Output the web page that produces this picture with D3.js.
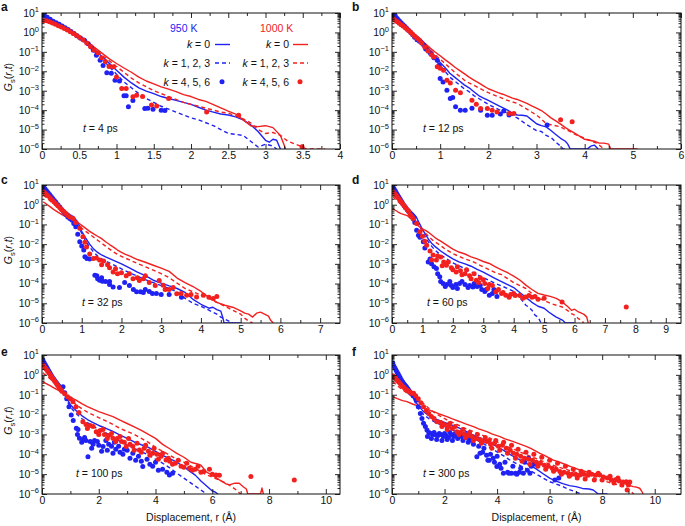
<!DOCTYPE html>
<html><head><meta charset="utf-8">
<script src="https://cdn.jsdelivr.net/npm/d3@7"></script>
<style>
body{margin:0;background:#fff}
svg text{font-family:"Liberation Sans",Arial,Helvetica,sans-serif;fill:#111}
</style>
</head><body>
<svg id="c" width="685" height="526"></svg>
<script>
// ---- DATA: [r (Å), log10 Gs(r,t)] ----
// panel a, t = 4 ps
const A_b0=[[0.02,0.85],[0.1,0.62],[0.2,0.42],[0.3,0.22],[0.4,0.02],[0.5,-0.2],[0.6,-0.5],[0.7,-0.85],[0.8,-1.22],[0.9,-1.58],[1.0,-1.95],[1.1,-2.3],[1.2,-2.6],[1.3,-2.85],[1.4,-3.02],[1.5,-3.15],[1.6,-3.3],[1.7,-3.4],[1.8,-3.5],[1.9,-3.6],[2.0,-3.7],[2.1,-3.85],[2.2,-4.0],[2.3,-4.1],[2.4,-4.2],[2.5,-4.25],[2.6,-4.35],[2.7,-4.5],[2.8,-4.75],[2.9,-5.1],[3.0,-5.55],[3.05,-5.65],[3.1,-5.5],[3.15,-5.55],[3.2,-6]];
const A_b1=[[0.02,0.8],[0.1,0.6],[0.2,0.4],[0.3,0.2],[0.4,0.0],[0.5,-0.25],[0.6,-0.6],[0.7,-0.98],[0.8,-1.35],[0.9,-1.75],[1.0,-2.15],[1.1,-2.55],[1.2,-2.85],[1.3,-3.15],[1.4,-3.4],[1.5,-3.6],[1.6,-3.8],[1.7,-3.95],[1.8,-4.1],[1.9,-4.25],[2.0,-4.4],[2.1,-4.5],[2.2,-4.65],[2.3,-4.8],[2.4,-5.0],[2.5,-5.2],[2.6,-5.25],[2.7,-5.3],[2.8,-5.6],[2.9,-5.9],[3.0,-5.75],[3.1,-5.85],[3.15,-6]];
const A_b2=[[0.03,0.9],[0.07,0.78],[0.11,0.68],[0.15,0.58],[0.19,0.5],[0.23,0.42],[0.27,0.33],[0.31,0.24],[0.35,0.15],[0.39,0.05],[0.43,-0.05],[0.47,-0.17],[0.52,-0.3],[0.57,-0.4],[0.62,-0.58],[0.66,-0.75],[0.69,-0.92],[0.73,-1.17],[0.78,-1.43],[0.82,-1.7],[0.87,-2.08],[0.93,-2.1],[0.98,-2.46],[1.04,-2.5],[1.1,-3.26],[1.13,-3.26],[1.16,-3.83],[1.22,-3.5],[1.38,-3.91],[1.42,-3.9],[1.49,-3.95],[1.6,-4.0],[1.65,-4.02]];
const A_r0=[[0.02,0.6],[0.1,0.5],[0.2,0.35],[0.3,0.18],[0.4,0.0],[0.5,-0.2],[0.6,-0.45],[0.7,-0.75],[0.8,-1.05],[0.9,-1.35],[1.0,-1.6],[1.1,-1.83],[1.2,-2.05],[1.3,-2.3],[1.4,-2.5],[1.5,-2.65],[1.6,-2.8],[1.7,-2.92],[1.8,-3.05],[1.9,-3.2],[2.0,-3.3],[2.1,-3.45],[2.2,-3.55],[2.3,-3.72],[2.4,-3.88],[2.5,-4.05],[2.6,-4.2],[2.7,-4.5],[2.8,-4.8],[2.9,-4.85],[3.0,-4.8],[3.1,-4.9],[3.2,-5.3],[3.25,-5.8],[3.27,-6]];
const A_r1=[[0.02,0.62],[0.1,0.5],[0.2,0.35],[0.3,0.18],[0.4,0.0],[0.5,-0.22],[0.6,-0.5],[0.7,-0.82],[0.8,-1.15],[0.9,-1.45],[1.0,-1.75],[1.1,-2.05],[1.2,-2.35],[1.3,-2.6],[1.4,-2.8],[1.5,-3.0],[1.6,-3.15],[1.7,-3.3],[1.8,-3.45],[1.9,-3.6],[2.0,-3.7],[2.1,-3.8],[2.2,-3.9],[2.3,-4.0],[2.4,-4.1],[2.5,-4.15],[2.6,-4.3],[2.7,-4.45],[2.8,-4.65],[2.9,-5.0],[3.0,-5.2],[3.1,-5.15],[3.2,-5.3],[3.3,-5.6],[3.4,-5.75],[3.5,-5.9],[3.55,-6],[3.8,-6]];
const A_r2=[[0.02,0.6],[0.06,0.6],[0.1,0.55],[0.14,0.48],[0.18,0.42],[0.22,0.35],[0.26,0.28],[0.3,0.2],[0.34,0.12],[0.38,0.04],[0.42,-0.05],[0.46,-0.15],[0.5,-0.25],[0.55,-0.38],[0.6,-0.55],[0.65,-0.72],[0.7,-0.9],[0.75,-1.05],[0.8,-1.3],[0.85,-1.5],[0.9,-1.75],[0.96,-1.77],[1.0,-2.3],[1.07,-2.89],[1.13,-2.89],[1.22,-3.31],[1.27,-3.23],[1.35,-3.3],[1.47,-3.74],[1.54,-3.79],[1.7,-3.4],[2.21,-4.1],[2.64,-4.26],[3.49,-5.88]];
// panel b, t = 12 ps
const B_b0=[[0.03,0.88],[0.1,0.7],[0.2,0.45],[0.3,0.25],[0.4,0.05],[0.5,-0.15],[0.6,-0.35],[0.7,-0.65],[0.8,-0.95],[0.9,-1.25],[1.0,-1.55],[1.1,-1.8],[1.2,-2.1],[1.3,-2.3],[1.4,-2.5],[1.5,-2.7],[1.6,-2.85],[1.7,-3.05],[1.8,-3.25],[1.9,-3.38],[2.0,-3.5],[2.2,-3.75],[2.4,-4.0],[2.5,-4.15],[2.6,-4.25],[2.7,-4.26],[2.8,-4.3],[2.9,-4.5],[3.0,-4.7],[3.1,-4.8],[3.2,-4.86],[3.3,-5.05],[3.4,-5.25],[3.5,-5.45],[3.6,-5.6],[3.65,-5.75],[3.7,-6],[4.05,-6],[4.13,-5.85],[4.2,-5.8],[4.28,-6]];
const B_b1=[[0.03,0.85],[0.1,0.68],[0.2,0.45],[0.3,0.25],[0.4,0.05],[0.5,-0.17],[0.6,-0.4],[0.7,-0.75],[0.8,-1.1],[0.9,-1.4],[1.0,-1.7],[1.1,-2.0],[1.2,-2.3],[1.3,-2.5],[1.4,-2.7],[1.5,-2.9],[1.6,-3.05],[1.7,-3.25],[1.8,-3.4],[1.9,-3.55],[2.0,-3.7],[2.2,-3.95],[2.4,-4.15],[2.6,-4.4],[2.8,-4.75],[2.9,-4.9],[3.0,-5.05],[3.1,-5.1],[3.2,-5.3],[3.3,-5.4],[3.4,-5.65],[3.5,-5.85],[3.55,-6],[3.65,-6]];
const B_b2=[[0.03,0.97],[0.07,0.85],[0.11,0.72],[0.15,0.6],[0.19,0.5],[0.23,0.4],[0.27,0.3],[0.31,0.2],[0.35,0.1],[0.39,0.0],[0.43,-0.12],[0.47,-0.25],[0.52,-0.38],[0.57,-0.45],[0.62,-0.55],[0.66,-0.65],[0.7,-0.85],[0.75,-0.95],[0.8,-1.09],[0.87,-1.3],[0.94,-1.43],[0.98,-1.69],[1.0,-2.37],[1.06,-2.55],[1.14,-2.97],[1.21,-3.4],[1.26,-3.35],[1.32,-3.83],[1.42,-4.0],[1.52,-4.0],[1.66,-3.9],[1.84,-4.0],[1.98,-4.26],[2.08,-4.26],[2.25,-4.2],[2.32,-4.05],[2.43,-4.25],[3.22,-4.77]];
const B_r0=[[0.03,0.62],[0.1,0.5],[0.2,0.33],[0.3,0.15],[0.4,-0.02],[0.5,-0.2],[0.6,-0.4],[0.7,-0.6],[0.8,-0.82],[0.9,-1.02],[1.0,-1.2],[1.1,-1.4],[1.2,-1.58],[1.3,-1.78],[1.4,-1.95],[1.5,-2.12],[1.6,-2.3],[1.7,-2.45],[1.8,-2.6],[1.9,-2.75],[2.0,-2.9],[2.1,-3.0],[2.2,-3.1],[2.3,-3.18],[2.4,-3.28],[2.5,-3.38],[2.6,-3.45],[2.7,-3.55],[2.8,-3.65],[2.9,-3.78],[3.0,-3.9],[3.1,-4.02],[3.2,-4.2],[3.3,-4.4],[3.4,-4.55],[3.5,-4.72],[3.6,-4.9],[3.7,-5.05],[3.8,-5.2],[3.9,-5.35],[4.0,-5.5],[4.1,-5.55],[4.2,-5.6],[4.3,-5.7],[4.4,-5.7],[4.5,-5.75],[4.54,-6],[5.1,-6]];
const B_r1=[[0.03,0.7],[0.1,0.55],[0.2,0.38],[0.3,0.2],[0.4,0.0],[0.5,-0.2],[0.6,-0.42],[0.7,-0.68],[0.8,-0.92],[0.9,-1.15],[1.0,-1.38],[1.1,-1.6],[1.2,-1.82],[1.3,-2.05],[1.4,-2.25],[1.5,-2.45],[1.6,-2.6],[1.7,-2.72],[1.8,-2.85],[1.9,-2.98],[2.0,-3.1],[2.2,-3.3],[2.4,-3.5],[2.6,-3.65],[2.8,-3.95],[3.0,-4.25],[3.1,-4.45],[3.2,-4.7],[3.3,-4.75],[3.5,-4.86],[3.6,-5.0],[3.7,-5.1],[3.8,-5.25],[3.9,-5.35],[4.0,-5.45],[4.1,-5.55],[4.25,-5.7],[4.35,-5.9],[4.4,-6]];
const B_r2=[[0.03,0.7],[0.07,0.62],[0.11,0.55],[0.15,0.47],[0.19,0.4],[0.23,0.33],[0.27,0.25],[0.31,0.17],[0.35,0.08],[0.39,0.0],[0.43,-0.1],[0.47,-0.2],[0.52,-0.3],[0.57,-0.4],[0.62,-0.55],[0.68,-0.75],[0.75,-0.95],[0.82,-1.15],[0.87,-1.26],[0.94,-1.77],[1.0,-1.85],[1.07,-1.95],[1.14,-2.46],[1.21,-2.6],[1.32,-2.97],[1.42,-3.1],[1.66,-3.49],[1.75,-3.7],[1.84,-3.91],[1.98,-3.91],[2.08,-4.0],[2.18,-4.1],[2.43,-4.17],[2.53,-4.17],[3.5,-4.5],[3.74,-4.6]];
// panel c, t = 32 ps
const C_b0=[[0.03,0.83],[0.1,0.62],[0.2,0.38],[0.3,0.15],[0.4,-0.05],[0.5,-0.2],[0.6,-0.35],[0.7,-0.5],[0.8,-0.62],[0.9,-0.88],[1.0,-1.35],[1.1,-1.7],[1.2,-2.0],[1.3,-2.25],[1.4,-2.42],[1.5,-2.55],[1.6,-2.65],[1.8,-2.82],[2.0,-3.0],[2.2,-3.2],[2.4,-3.42],[2.6,-3.6],[2.8,-3.83],[3.0,-3.98],[3.2,-4.12],[3.4,-4.25],[3.6,-4.45],[3.8,-4.8],[4.0,-5.05],[4.2,-5.25],[4.3,-5.2],[4.4,-5.32],[4.5,-5.4],[4.56,-5.8],[4.58,-6],[5.0,-6]];
const C_b1=[[0.03,0.8],[0.1,0.6],[0.2,0.38],[0.3,0.15],[0.4,-0.05],[0.5,-0.22],[0.6,-0.38],[0.7,-0.55],[0.8,-0.75],[0.9,-1.05],[1.0,-1.45],[1.1,-1.85],[1.2,-2.15],[1.3,-2.4],[1.4,-2.6],[1.5,-2.75],[1.6,-2.85],[1.8,-3.05],[2.0,-3.25],[2.2,-3.45],[2.4,-3.62],[2.6,-3.8],[2.8,-3.95],[3.0,-4.1],[3.2,-4.25],[3.4,-4.42],[3.6,-4.75],[3.8,-5.0],[4.0,-5.15],[4.2,-5.35],[4.4,-5.55],[4.5,-5.7],[4.65,-5.85],[4.8,-6]];
const C_b2=[[0.03,0.92],[0.07,0.82],[0.11,0.72],[0.15,0.62],[0.19,0.52],[0.23,0.42],[0.27,0.32],[0.31,0.22],[0.35,0.12],[0.4,0.0],[0.45,-0.12],[0.5,-0.25],[0.55,-0.38],[0.6,-0.5],[0.65,-0.62],[0.7,-0.7],[0.75,-0.78],[0.8,-0.95],[0.85,-1.12],[0.9,-1.5],[0.95,-1.88],[1.0,-2.1],[1.05,-2.3],[1.08,-2.64],[1.13,-2.73],[1.2,-2.75],[1.33,-3.58],[1.38,-3.6],[1.4,-3.75],[1.45,-3.83],[1.5,-3.7],[1.52,-3.88],[1.6,-3.9],[1.7,-4.05],[1.7,-3.9],[1.79,-4.17],[1.95,-4.2],[2.08,-3.95],[2.2,-4.1],[2.3,-4.3],[2.38,-4.42],[2.48,-4.42],[2.55,-4.45],[2.6,-4.3],[2.7,-4.4],[2.78,-4.5],[2.88,-4.5],[3.0,-4.55],[3.2,-4.55],[3.51,-4.7]];
const C_r0=[[0.03,0.15],[0.1,0.05],[0.2,-0.1],[0.3,-0.25],[0.4,-0.38],[0.5,-0.5],[0.6,-0.6],[0.7,-0.68],[0.8,-0.75],[0.9,-0.9],[1.0,-1.05],[1.1,-1.2],[1.2,-1.35],[1.3,-1.48],[1.4,-1.6],[1.5,-1.72],[1.6,-1.88],[1.7,-2.02],[1.8,-2.15],[1.9,-2.3],[2.0,-2.42],[2.1,-2.52],[2.2,-2.6],[2.4,-2.78],[2.6,-2.92],[2.8,-3.07],[3.0,-3.22],[3.2,-3.38],[3.4,-3.72],[3.6,-3.95],[3.8,-4.15],[4.0,-4.4],[4.2,-4.7],[4.4,-4.95],[4.6,-5.1],[4.8,-5.2],[5.0,-5.38],[5.1,-5.5],[5.2,-5.55],[5.3,-5.7],[5.4,-5.5],[5.5,-5.45],[5.6,-5.55],[5.7,-5.65],[5.75,-5.85],[5.82,-6]];
const C_r1=[[0.03,0.5],[0.1,0.38],[0.2,0.2],[0.3,0.02],[0.4,-0.15],[0.5,-0.32],[0.6,-0.5],[0.7,-0.68],[0.8,-0.85],[0.9,-1.05],[1.0,-1.2],[1.1,-1.35],[1.2,-1.5],[1.3,-1.65],[1.4,-1.8],[1.5,-1.95],[1.6,-2.1],[1.7,-2.25],[1.8,-2.4],[1.9,-2.52],[2.0,-2.62],[2.2,-2.8],[2.4,-2.98],[2.6,-3.15],[2.8,-3.32],[3.0,-3.5],[3.2,-3.7],[3.4,-3.98],[3.6,-4.25],[3.8,-4.42],[4.0,-4.58],[4.2,-4.75],[4.4,-4.95],[4.6,-5.15],[4.8,-5.35],[5.0,-5.55],[5.1,-5.75],[5.2,-5.9],[5.3,-6]];
const C_r2=[[0.03,0.66],[0.07,0.6],[0.11,0.52],[0.15,0.45],[0.2,0.35],[0.25,0.25],[0.3,0.15],[0.35,0.05],[0.4,-0.05],[0.45,-0.15],[0.5,-0.25],[0.55,-0.35],[0.6,-0.45],[0.65,-0.55],[0.7,-0.62],[0.78,-0.7],[0.85,-0.9],[0.95,-1.2],[1.03,-1.63],[1.08,-1.9],[1.12,-2.14],[1.2,-2.5],[1.29,-2.73],[1.37,-2.7],[1.45,-2.81],[1.5,-3.05],[1.55,-2.85],[1.65,-3.05],[1.7,-3.2],[1.79,-3.41],[1.85,-3.25],[1.9,-3.5],[2.0,-3.45],[2.12,-3.6],[2.2,-3.5],[2.29,-3.75],[2.4,-3.7],[2.45,-3.85],[2.55,-3.75],[2.6,-3.6],[2.7,-3.95],[2.85,-4.1],[2.95,-3.85],[3.05,-4.08],[3.1,-4.3],[3.2,-4.3],[3.3,-4.2],[3.39,-4.51],[3.5,-4.5],[3.64,-4.59],[3.75,-4.55],[3.89,-4.68],[4.06,-4.59],[4.2,-4.7],[4.31,-4.76],[4.4,-4.65]];
// panel d, t = 60 ps
const D_b0=[[0.03,0.92],[0.1,0.7],[0.2,0.45],[0.3,0.22],[0.4,0.02],[0.5,-0.15],[0.6,-0.3],[0.7,-0.45],[0.8,-0.62],[0.9,-0.95],[1.0,-1.25],[1.1,-1.5],[1.2,-1.75],[1.3,-1.95],[1.4,-2.1],[1.6,-2.35],[1.8,-2.56],[2.0,-2.75],[2.2,-2.9],[2.4,-3.0],[2.6,-3.12],[2.8,-3.28],[3.0,-3.42],[3.2,-3.58],[3.4,-3.75],[3.6,-3.9],[3.8,-4.05],[4.0,-4.2],[4.2,-4.45],[4.4,-4.7],[4.6,-4.95],[4.8,-5.15],[5.0,-5.25],[5.15,-5.44],[5.3,-5.6],[5.4,-5.7],[5.6,-5.85],[5.7,-6],[6.0,-6]];
const D_b1=[[0.03,0.88],[0.1,0.68],[0.2,0.44],[0.3,0.22],[0.4,0.02],[0.5,-0.16],[0.6,-0.32],[0.7,-0.5],[0.8,-0.7],[0.9,-1.05],[1.0,-1.38],[1.1,-1.65],[1.2,-1.9],[1.3,-2.1],[1.4,-2.28],[1.6,-2.55],[1.8,-2.75],[2.0,-2.95],[2.2,-3.1],[2.4,-3.25],[2.6,-3.4],[2.8,-3.55],[3.0,-3.7],[3.2,-3.85],[3.4,-4.0],[3.6,-4.12],[3.8,-4.25],[4.0,-4.4],[4.2,-4.7],[4.4,-5.1],[4.5,-5.2],[4.6,-5.35],[4.7,-5.6],[4.8,-5.7],[4.9,-6],[5.1,-6]];
const D_b2=[[0.03,0.92],[0.07,0.8],[0.11,0.7],[0.15,0.58],[0.19,0.48],[0.23,0.38],[0.27,0.28],[0.31,0.18],[0.35,0.08],[0.4,-0.05],[0.45,-0.15],[0.5,-0.25],[0.55,-0.35],[0.6,-0.45],[0.65,-0.55],[0.7,-0.7],[0.75,-0.9],[0.81,-1.29],[0.87,-1.55],[0.92,-1.65],[1.03,-1.88],[1.08,-2.2],[1.19,-2.9],[1.25,-2.75],[1.3,-3.0],[1.38,-3.15],[1.46,-3.24],[1.5,-3.5],[1.57,-3.66],[1.6,-3.9],[1.68,-4.0],[1.75,-4.15],[1.8,-4.05],[1.9,-3.9],[1.95,-4.1],[2.0,-4.2],[2.1,-4.05],[2.15,-4.25],[2.22,-4.0],[2.3,-3.9],[2.4,-4.05],[2.5,-4.2],[2.55,-4.1],[2.66,-4.17],[2.7,-4.0],[2.8,-4.15],[2.9,-4.1],[2.95,-4.3],[3.05,-4.4],[3.1,-4.3],[3.2,-4.59],[3.3,-4.5],[3.35,-4.3],[3.45,-4.65]];
const D_r0=[[0.03,-0.2],[0.1,-0.27],[0.2,-0.37],[0.3,-0.45],[0.4,-0.5],[0.5,-0.55],[0.6,-0.68],[0.7,-0.85],[0.8,-1.0],[0.9,-1.12],[1.0,-1.22],[1.1,-1.3],[1.2,-1.4],[1.3,-1.52],[1.4,-1.65],[1.5,-1.76],[1.6,-1.85],[1.8,-2.05],[2.0,-2.25],[2.2,-2.4],[2.4,-2.5],[2.6,-2.65],[2.8,-2.75],[3.0,-2.88],[3.2,-2.98],[3.4,-3.15],[3.6,-3.3],[3.8,-3.45],[4.0,-3.62],[4.2,-3.82],[4.4,-4.08],[4.6,-4.3],[4.8,-4.5],[5.0,-4.58],[5.2,-4.65],[5.4,-4.75],[5.6,-4.93],[5.8,-5.2],[5.9,-5.36],[6.0,-5.3],[6.13,-5.44],[6.3,-5.55],[6.4,-5.69],[6.45,-6]];
const D_r1=[[0.03,0.41],[0.1,0.3],[0.2,0.15],[0.3,0.0],[0.4,-0.15],[0.5,-0.3],[0.6,-0.5],[0.7,-0.7],[0.8,-0.9],[0.9,-1.1],[1.0,-1.3],[1.1,-1.45],[1.2,-1.6],[1.3,-1.75],[1.4,-1.88],[1.5,-1.97],[1.6,-2.08],[1.8,-2.3],[2.0,-2.48],[2.2,-2.62],[2.4,-2.75],[2.6,-2.85],[2.8,-3.0],[3.0,-3.15],[3.2,-3.3],[3.4,-3.45],[3.6,-3.55],[3.8,-3.75],[4.0,-3.95],[4.2,-4.1],[4.4,-4.25],[4.6,-4.5],[4.8,-4.75],[5.0,-4.85],[5.2,-5.0],[5.4,-5.1],[5.6,-5.19],[5.8,-5.4],[5.9,-5.53],[6.0,-5.6],[6.13,-5.78],[6.25,-5.9],[6.3,-6]];
const D_r2=[[0.03,0.66],[0.07,0.6],[0.11,0.52],[0.15,0.45],[0.2,0.35],[0.25,0.25],[0.3,0.15],[0.35,0.05],[0.4,-0.05],[0.45,-0.15],[0.5,-0.25],[0.55,-0.35],[0.6,-0.5],[0.65,-0.6],[0.7,-0.7],[0.81,-0.95],[0.92,-1.37],[1.0,-1.6],[1.08,-1.85],[1.14,-2.05],[1.25,-2.35],[1.3,-2.8],[1.35,-2.55],[1.46,-2.81],[1.5,-2.6],[1.6,-2.65],[1.65,-3.1],[1.7,-2.9],[1.79,-3.07],[1.85,-2.9],[1.95,-3.2],[2.0,-3.3],[2.11,-3.41],[2.15,-3.15],[2.25,-3.35],[2.3,-3.55],[2.4,-3.5],[2.45,-3.3],[2.55,-3.6],[2.6,-3.75],[2.7,-3.5],[2.77,-3.83],[2.85,-3.95],[2.9,-3.7],[3.0,-3.8],[3.05,-4.0],[3.15,-4.25],[3.2,-4.05],[3.3,-4.1],[3.42,-4.42],[3.5,-4.3],[3.6,-4.5],[3.65,-4.45],[3.74,-4.59],[3.85,-4.7],[3.9,-4.55],[4.0,-4.5],[4.05,-4.6],[4.2,-4.6],[4.3,-4.75],[4.39,-4.68],[4.5,-4.6],[4.6,-4.7],[4.7,-4.65],[4.8,-4.8],[5.0,-4.75],[5.59,-4.93],[7.7,-5.19]];
// panel e, t = 100 ps
const E_b0=[[0.03,0.75],[0.1,0.55],[0.2,0.3],[0.3,0.05],[0.4,-0.15],[0.5,-0.3],[0.6,-0.45],[0.7,-0.65],[0.8,-0.95],[0.9,-1.25],[1.0,-1.5],[1.2,-1.8],[1.4,-2.05],[1.6,-2.25],[1.8,-2.4],[2.0,-2.55],[2.25,-2.69],[2.5,-2.85],[2.75,-3.03],[3.0,-3.2],[3.25,-3.38],[3.5,-3.52],[3.75,-3.65],[4.0,-3.85],[4.25,-4.05],[4.5,-4.22],[4.75,-4.4],[5.0,-4.62],[5.2,-4.85],[5.4,-5.05],[5.6,-5.35],[5.8,-5.6],[6.0,-5.85],[6.1,-5.9],[6.2,-6]];
const E_b1=[[0.03,0.72],[0.1,0.52],[0.2,0.28],[0.3,0.04],[0.4,-0.16],[0.5,-0.32],[0.6,-0.48],[0.7,-0.7],[0.8,-1.0],[0.9,-1.35],[1.0,-1.62],[1.2,-1.95],[1.4,-2.2],[1.6,-2.4],[1.8,-2.58],[2.0,-2.75],[2.25,-2.92],[2.5,-3.15],[2.75,-3.35],[3.0,-3.52],[3.25,-3.7],[3.5,-3.88],[3.75,-4.02],[4.0,-4.25],[4.25,-4.45],[4.5,-4.68],[4.75,-4.95],[5.0,-5.2],[5.25,-5.45],[5.5,-5.7],[5.7,-5.9],[5.8,-6]];
const E_b2=[[0.03,0.75],[0.07,0.62],[0.11,0.52],[0.15,0.42],[0.19,0.32],[0.23,0.22],[0.27,0.12],[0.31,0.02],[0.35,-0.08],[0.4,-0.18],[0.45,-0.28],[0.5,-0.38],[0.55,-0.48],[0.6,-0.58],[0.65,-0.68],[0.74,-0.6],[0.8,-0.9],[0.87,-1.2],[0.95,-1.6],[1.03,-2.02],[1.1,-2.3],[1.21,-2.69],[1.25,-3.0],[1.27,-2.75],[1.32,-3.19],[1.4,-3.4],[1.45,-3.25],[1.5,-3.15],[1.55,-3.3],[1.62,-4.12],[1.7,-3.35],[1.75,-3.7],[1.8,-3.5],[1.85,-3.3],[1.95,-3.35],[2.0,-3.55],[2.1,-3.85],[2.15,-3.61],[2.25,-3.3],[2.3,-3.8],[2.35,-3.5],[2.45,-3.6],[2.5,-3.95],[2.55,-3.4],[2.6,-3.75],[2.7,-3.6],[2.75,-3.9],[2.85,-4.0],[2.9,-3.75],[3.0,-3.8],[3.1,-4.2],[3.2,-3.95],[3.3,-4.3],[3.4,-4.1],[3.5,-4.35],[3.55,-4.62],[3.7,-4.25],[3.8,-4.5],[3.9,-4.6],[4.0,-4.4],[4.1,-4.8],[4.25,-4.75],[4.4,-4.9],[4.49,-5.04],[4.6,-4.95]];
const E_r0=[[0.03,-0.35],[0.1,-0.4],[0.2,-0.48],[0.3,-0.56],[0.4,-0.64],[0.5,-0.72],[0.6,-0.8],[0.7,-0.9],[0.8,-1.0],[0.9,-1.08],[1.0,-1.13],[1.2,-1.27],[1.4,-1.45],[1.6,-1.6],[1.8,-1.73],[2.0,-1.85],[2.25,-1.98],[2.5,-2.1],[2.75,-2.28],[3.0,-2.45],[3.25,-2.62],[3.5,-2.8],[3.75,-3.0],[4.0,-3.2],[4.25,-3.5],[4.5,-3.72],[4.75,-3.95],[5.0,-4.15],[5.25,-4.4],[5.5,-4.5],[5.6,-4.55],[5.8,-4.9],[6.0,-5.05],[6.25,-5.29],[6.5,-5.5],[6.6,-5.54],[6.8,-5.45],[6.95,-5.46],[7.1,-5.65],[7.2,-5.75],[7.25,-6],[7.7,-6],[7.75,-5.7],[7.8,-6]];
const E_r1=[[0.03,0.1],[0.1,0.02],[0.2,-0.1],[0.3,-0.22],[0.4,-0.35],[0.5,-0.48],[0.6,-0.62],[0.7,-0.78],[0.8,-0.95],[0.9,-1.1],[1.0,-1.25],[1.2,-1.5],[1.4,-1.7],[1.6,-1.88],[1.8,-2.02],[2.0,-2.15],[2.25,-2.32],[2.5,-2.5],[2.75,-2.7],[3.0,-2.85],[3.25,-3.0],[3.5,-3.2],[3.75,-3.4],[4.0,-3.65],[4.25,-3.85],[4.5,-4.05],[4.75,-4.25],[5.0,-4.4],[5.25,-4.6],[5.5,-4.79],[5.75,-5.0],[6.0,-5.15],[6.25,-5.3],[6.5,-5.46],[6.7,-5.65],[6.85,-5.8],[7.0,-6]];
const E_r2=[[0.03,0.5],[0.07,0.42],[0.11,0.35],[0.15,0.28],[0.2,0.18],[0.25,0.08],[0.3,-0.02],[0.35,-0.12],[0.4,-0.22],[0.45,-0.32],[0.5,-0.42],[0.55,-0.52],[0.6,-0.62],[0.65,-0.72],[0.7,-0.82],[0.8,-0.95],[0.9,-1.1],[1.0,-1.2],[1.09,-1.35],[1.2,-1.6],[1.3,-1.9],[1.44,-2.36],[1.55,-2.5],[1.6,-2.7],[1.7,-2.55],[1.8,-2.6],[1.91,-2.86],[2.0,-3.0],[2.05,-2.8],[2.15,-2.75],[2.2,-3.0],[2.3,-3.2],[2.35,-3.05],[2.45,-2.95],[2.5,-3.19],[2.6,-3.35],[2.65,-3.2],[2.75,-3.1],[2.8,-3.35],[2.9,-3.4],[2.97,-3.61],[3.05,-3.2],[3.1,-3.5],[3.2,-3.6],[3.25,-3.8],[3.35,-3.45],[3.43,-3.78],[3.5,-3.9],[3.6,-3.7],[3.65,-3.55],[3.75,-3.85],[3.8,-4.05],[3.9,-3.95],[3.95,-3.7],[4.05,-4.0],[4.1,-4.25],[4.2,-4.1],[4.25,-3.95],[4.37,-4.29],[4.45,-4.2],[4.5,-4.35],[4.6,-4.5],[4.7,-4.45],[4.8,-4.3],[4.9,-4.6],[5.0,-4.65],[5.1,-4.45],[5.19,-4.7],[5.3,-4.8],[5.4,-4.75],[5.5,-4.6],[5.6,-4.9],[5.7,-4.85],[5.9,-4.75],[6.0,-5.0],[6.13,-5.04],[6.25,-5.05],[7.36,-5.12],[8.89,-5.29]];
// panel f, t = 300 ps
const F_b0=[[0.03,0.6],[0.1,0.35],[0.2,0.1],[0.3,-0.1],[0.4,-0.25],[0.5,-0.4],[0.6,-0.55],[0.7,-0.76],[0.8,-1.05],[0.9,-1.35],[1.0,-1.55],[1.2,-1.85],[1.4,-2.05],[1.6,-2.2],[1.8,-2.3],[2.0,-2.4],[2.25,-2.52],[2.5,-2.65],[2.75,-2.8],[3.0,-2.97],[3.25,-3.12],[3.5,-3.3],[3.75,-3.45],[4.0,-3.62],[4.25,-3.8],[4.5,-4.02],[4.75,-4.2],[5.0,-4.38],[5.25,-4.55],[5.5,-4.75],[5.75,-4.98],[6.0,-5.2],[6.25,-5.35],[6.5,-5.48],[6.75,-5.58],[7.0,-5.63],[7.25,-5.72],[7.5,-5.75],[7.66,-5.8],[7.85,-6],[8.2,-6]];
const F_b1=[[0.03,0.55],[0.1,0.32],[0.2,0.08],[0.3,-0.12],[0.4,-0.28],[0.5,-0.45],[0.6,-0.62],[0.7,-0.85],[0.8,-1.15],[0.9,-1.45],[1.0,-1.7],[1.2,-2.0],[1.4,-2.2],[1.6,-2.35],[1.8,-2.48],[2.0,-2.6],[2.25,-2.75],[2.5,-2.88],[2.75,-3.02],[3.0,-3.15],[3.25,-3.3],[3.5,-3.48],[3.75,-3.68],[4.0,-3.88],[4.25,-4.08],[4.5,-4.3],[4.75,-4.48],[5.0,-4.65],[5.25,-4.82],[5.5,-5.0],[5.75,-5.2],[6.0,-5.38],[6.25,-5.5],[6.5,-5.62],[6.75,-5.78],[7.0,-5.9],[7.2,-6]];
const F_b2=[[0.03,0.6],[0.07,0.45],[0.11,0.35],[0.15,0.25],[0.19,0.15],[0.23,0.05],[0.27,-0.05],[0.31,-0.15],[0.35,-0.25],[0.4,-0.35],[0.45,-0.45],[0.5,-0.55],[0.55,-0.62],[0.6,-0.7],[0.65,-0.8],[0.7,-0.9],[0.8,-1.05],[0.88,-1.15],[0.95,-1.27],[1.0,-1.6],[1.08,-1.94],[1.14,-2.2],[1.2,-2.44],[1.27,-2.6],[1.33,-2.78],[1.35,-3.1],[1.4,-2.9],[1.46,-2.94],[1.5,-3.2],[1.55,-3.0],[1.6,-2.9],[1.65,-3.02],[1.7,-3.25],[1.75,-3.05],[1.8,-2.95],[1.85,-3.0],[1.9,-3.3],[1.96,-3.11],[2.0,-2.95],[2.05,-3.05],[2.1,-3.25],[2.15,-3.15],[2.2,-2.9],[2.25,-3.0],[2.3,-3.3],[2.35,-3.1],[2.4,-2.95],[2.45,-3.05],[2.5,-3.2],[2.55,-2.95],[2.6,-3.0],[2.65,-3.1],[2.7,-3.3],[2.75,-3.05],[2.8,-3.0],[2.85,-3.15],[2.9,-3.4],[2.95,-3.25],[3.0,-3.1],[3.05,-3.3],[3.1,-3.5],[3.15,-3.2],[3.23,-4.12],[3.3,-3.6],[3.35,-3.95],[3.45,-3.9],[3.5,-3.7],[3.6,-4.05],[3.65,-4.3],[3.7,-4.3],[3.75,-4.0],[3.85,-4.2],[3.9,-4.4],[3.99,-4.62],[4.0,-4.1],[4.1,-4.5],[4.15,-4.7],[4.24,-4.96],[4.3,-4.4],[4.4,-4.9],[4.45,-4.95],[4.55,-4.95],[4.6,-4.6],[4.7,-4.95],[4.75,-5.0],[4.85,-4.9],[4.9,-4.7],[5.0,-4.96],[5.05,-4.4],[5.15,-4.8],[5.2,-4.2],[5.25,-4.95],[5.3,-4.6],[5.4,-4.5],[5.5,-4.5],[6.2,-5.3],[6.35,-5.2]];
const F_r0=[[0.03,-1.1],[0.2,-1.2],[0.4,-1.3],[0.57,-1.35],[0.8,-1.48],[1.08,-1.6],[1.3,-1.72],[1.58,-1.85],[1.8,-1.97],[2.09,-2.1],[2.3,-2.22],[2.59,-2.36],[2.8,-2.47],[3.1,-2.61],[3.3,-2.72],[3.61,-2.86],[3.8,-2.97],[4.11,-3.11],[4.3,-3.22],[4.62,-3.36],[4.8,-3.45],[5.13,-3.61],[5.3,-3.72],[5.63,-3.95],[5.8,-4.05],[6.14,-4.29],[6.3,-4.36],[6.65,-4.54],[6.8,-4.62],[7.15,-4.79],[7.4,-4.88],[7.66,-4.96],[7.9,-5.08],[8.16,-5.21],[8.4,-5.3],[8.67,-5.38],[8.9,-5.5],[9.18,-5.63],[9.3,-5.65],[9.43,-5.71],[9.5,-5.85],[9.56,-6]];
const F_r1=[[0.03,-0.34],[0.2,-0.55],[0.4,-0.75],[0.6,-0.95],[0.8,-1.1],[0.95,-1.18],[1.2,-1.45],[1.5,-1.8],[1.8,-2.05],[2.09,-2.27],[2.4,-2.45],[2.7,-2.65],[3.1,-2.86],[3.4,-3.02],[3.73,-3.19],[4.0,-3.38],[4.37,-3.61],[4.7,-3.78],[5.0,-3.95],[5.3,-4.12],[5.63,-4.29],[5.9,-4.45],[6.27,-4.62],[6.6,-4.75],[6.9,-4.87],[7.2,-5.0],[7.53,-5.12],[7.8,-5.25],[8.16,-5.38],[8.5,-5.5],[8.8,-5.63],[9.0,-5.75],[9.1,-5.88],[9.2,-6]];
const F_r2=[[0.03,-0.05],[0.07,-0.1],[0.11,-0.15],[0.15,-0.2],[0.2,-0.28],[0.25,-0.35],[0.3,-0.42],[0.35,-0.5],[0.4,-0.57],[0.45,-0.63],[0.5,-0.7],[0.55,-0.75],[0.6,-0.8],[0.65,-0.85],[0.7,-0.88],[0.75,-0.92],[0.82,-0.93],[0.9,-1.05],[1.0,-1.2],[1.1,-1.4],[1.2,-1.6],[1.3,-1.8],[1.4,-1.95],[1.5,-2.1],[1.6,-2.2],[1.71,-2.36],[1.85,-2.4],[1.9,-2.6],[2.0,-2.5],[2.1,-2.75],[2.15,-2.6],[2.2,-2.45],[2.3,-2.7],[2.4,-2.6],[2.47,-2.86],[2.55,-3.0],[2.6,-2.9],[2.7,-2.75],[2.75,-2.98],[2.8,-3.15],[2.9,-3.05],[2.95,-2.9],[3.05,-3.1],[3.1,-3.3],[3.2,-3.2],[3.25,-3.0],[3.35,-3.25],[3.4,-3.45],[3.5,-3.3],[3.55,-3.15],[3.61,-3.36],[3.7,-3.3],[3.75,-3.5],[3.8,-3.7],[3.9,-3.45],[3.95,-3.3],[4.05,-3.6],[4.1,-3.8],[4.2,-3.55],[4.25,-3.4],[4.35,-3.7],[4.4,-3.95],[4.5,-3.8],[4.55,-3.55],[4.62,-3.95],[4.7,-4.2],[4.75,-4.0],[4.8,-3.75],[4.9,-4.1],[4.95,-4.35],[5.05,-4.2],[5.1,-3.9],[5.2,-4.25],[5.25,-4.5],[5.35,-4.3],[5.4,-4.0],[5.5,-4.4],[5.55,-4.6],[5.65,-4.45],[5.7,-4.15],[5.8,-4.55],[5.85,-4.75],[5.95,-4.6],[6.0,-4.3],[6.1,-4.7],[6.15,-4.85],[6.25,-4.75],[6.3,-4.45],[6.39,-4.87],[6.45,-5.0],[6.55,-4.9],[6.6,-4.6],[6.7,-4.95],[6.75,-5.1],[6.85,-5.0],[6.9,-4.75],[7.0,-5.02],[7.05,-5.2],[7.15,-5.04],[7.2,-4.85],[7.3,-5.0],[7.35,-5.25],[7.45,-5.05],[7.5,-4.9],[7.6,-5.0],[7.7,-5.3],[7.75,-5.05],[7.85,-4.95],[7.91,-5.04],[8.0,-5.3],[8.05,-5.15],[8.2,-5.2],[8.3,-5.1],[8.35,-5.3],[8.45,-5.45],[8.5,-5.28],[8.6,-5.2],[8.65,-5.35],[8.75,-5.55],[8.8,-5.4],[8.92,-5.38],[8.95,-5.8],[9.0,-5.55],[9.05,-5.4]];

const panelIds=["a","b","c","d","e","f"];
const times=["4","12","32","60","100","300"];
const xMax=[4,6,7.5,9.5,10.5,11];
const xMajor=[0.5,1,1,1,2,2];
const temps=["950 K","1000 K"];
const groups=["k = 0","k = 1, 2, 3","k = 4, 5, 6"];
const seriesByPanel=[
  [A_b0,A_b1,A_b2,A_r0,A_r1,A_r2],[B_b0,B_b1,B_b2,B_r0,B_r1,B_r2],
  [C_b0,C_b1,C_b2,C_r0,C_r1,C_r2],[D_b0,D_b1,D_b2,D_r0,D_r1,D_r2],
  [E_b0,E_b1,E_b2,E_r0,E_r1,E_r2],[F_b0,F_b1,F_b2,F_r0,F_r1,F_r2]];

// ---- LAYOUT ----
const BLUE="#1f22f2", RED="#f2201f";
const FS=10.5;
const boxes=[
 {x0:42,x1:340,y0:13,y1:149,lx:1,ly:11,tx:83},
 {x0:392,x1:681,y0:13,y1:149,lx:352,ly:11,tx:423},
 {x0:42,x1:340,y0:185,y1:323,lx:1,ly:184,tx:82},
 {x0:392,x1:681,y0:185,y1:323,lx:352,ly:184,tx:427},
 {x0:42,x1:340,y0:355,y1:494,lx:1,ly:356,tx:76},
 {x0:392,x1:681,y0:355,y1:494,lx:352,ly:356,tx:423}];

const svg=d3.select("#c");
const sup=s=>s.replace("-","\u2212");

boxes.forEach((b,i)=>{
  const x=d3.scaleLinear().domain([0,xMax[i]]).range([b.x0,b.x1]);
  const y=d3.scaleLog().domain([1e-6,10]).range([b.y1,b.y0]);
  const g=svg.append("g");
  const cid="clip"+panelIds[i];
  svg.append("clipPath").attr("id",cid).append("rect")
    .attr("x",b.x0).attr("y",b.y0).attr("width",b.x1-b.x0).attr("height",b.y1-b.y0);
  const plot=g.append("g").attr("clip-path",`url(#${cid})`);
  const line=d3.line().x(d=>x(d[0])).y(d=>y(Math.pow(10,d[1])));
  const S=seriesByPanel[i];
  const styles=[{c:BLUE,d:null},{c:BLUE,d:"4,3"},null,{c:RED,d:null},{c:RED,d:"4,3"},null];
  [0,1,3,4].forEach(k=>{
    plot.append("path").datum(S[k]).attr("d",line).attr("fill","none")
      .attr("stroke",styles[k].c).attr("stroke-width",1.4)
      .attr("stroke-dasharray",styles[k].d).attr("stroke-linejoin","round");
  });
  [[2,BLUE],[5,RED]].forEach(([k,c])=>{
    plot.append("g").selectAll("circle").data(S[k]).join("circle")
      .attr("cx",d=>x(d[0])).attr("cy",d=>y(Math.pow(10,d[1]))).attr("r",2.5).attr("fill",c);
  });

  // axes
  const majors=d3.range(0,xMax[i]+1e-9,xMajor[i]);
  const minors=d3.range(xMajor[i]/2,xMax[i]+1e-9,xMajor[i]).filter(v=>v<xMax[i]-1e-9);
  const yMaj=d3.range(-6,2).map(e=>Math.pow(10,e));
  const yMin=[];
  for(let e=-6;e<1;e++) for(let m=2;m<10;m++) yMin.push(m*Math.pow(10,e));
  const fmtX=d3.format("~g");
  const style=sel=>{sel.select(".domain").remove();sel.selectAll("line").attr("stroke","#111").attr("stroke-width",0.9);
    sel.attr("font-family",null).attr("font-size",null);};
  g.append("g").attr("transform",`translate(0,${b.y1})`)
    .call(d3.axisBottom(x).tickValues(majors).tickSize(-5).tickPadding(3).tickFormat(fmtX)).call(style)
    .selectAll("text").attr("font-size",FS);
  g.append("g").attr("transform",`translate(0,${b.y1})`)
    .call(d3.axisBottom(x).tickValues(minors).tickSize(-3).tickFormat("")).call(style);
  g.append("g").attr("transform",`translate(0,${b.y0})`)
    .call(d3.axisTop(x).tickValues(majors).tickSize(-5).tickFormat("")).call(style);
  g.append("g").attr("transform",`translate(0,${b.y0})`)
    .call(d3.axisTop(x).tickValues(minors).tickSize(-3).tickFormat("")).call(style);
  const yl=g.append("g").attr("transform",`translate(${b.x0},0)`)
    .call(d3.axisLeft(y).tickValues(yMaj).tickSize(-5).tickPadding(3).tickFormat(d=>"")).call(style);
  yl.selectAll(".tick text").each(function(d){
    const t=d3.select(this).attr("font-size",FS);
    t.append("tspan").text("10");
    t.append("tspan").attr("font-size",7.5).attr("dy","-4.5").text(sup(String(Math.round(Math.log10(d)))));
  });
  g.append("g").attr("transform",`translate(${b.x0},0)`)
    .call(d3.axisLeft(y).tickValues(yMin).tickSize(-2.5).tickFormat("")).call(style);
  g.append("g").attr("transform",`translate(${b.x1},0)`)
    .call(d3.axisRight(y).tickValues(yMaj).tickSize(-5).tickFormat("")).call(style);
  g.append("g").attr("transform",`translate(${b.x1},0)`)
    .call(d3.axisRight(y).tickValues(yMin).tickSize(-2.5).tickFormat("")).call(style);
  g.append("rect").attr("x",b.x0).attr("y",b.y0).attr("width",b.x1-b.x0).attr("height",b.y1-b.y0)
    .attr("fill","none").attr("stroke","#111").attr("stroke-width",1);

  // panel letter
  svg.append("text").attr("x",b.lx).attr("y",b.ly).attr("font-size",12).attr("font-weight","bold").text(panelIds[i]);
  // time label
  const tl=svg.append("text").attr("x",b.tx).attr("y",b.y1-17).attr("font-size",FS);
  tl.append("tspan").attr("font-style","italic").text("t");
  tl.append("tspan").text(" = "+times[i]+" ps");

  // y label on left column
  if(i%2===0){
    const cy=(b.y0+b.y1)/2-4;
    const yt=svg.append("text").attr("transform",`translate(12,${cy}) rotate(-90)`)
      .attr("text-anchor","middle").attr("font-size",FS);
    yt.append("tspan").attr("font-style","italic").text("G");
    yt.append("tspan").attr("font-size",7.5).attr("dy",2.5).text("s");
    yt.append("tspan").attr("dy",-2.5).text("(");
    yt.append("tspan").attr("font-style","italic").text("r");
    yt.append("tspan").text(",");
    yt.append("tspan").attr("font-style","italic").text("t");
    yt.append("tspan").text(")");
  }
  // x title bottom row
  if(i>=4){
    svg.append("text").attr("x",(b.x0+b.x1)/2).attr("y",521).attr("text-anchor","middle")
      .attr("font-size",FS).text("Displacement, r (\u00c5)");
  }
});

// legend in panel a
const leg=svg.append("g");
leg.append("text").attr("x",170).attr("y",32).attr("font-size",FS).style("fill",BLUE).text(temps[0]);
leg.append("text").attr("x",260).attr("y",32).attr("font-size",FS).style("fill",RED).text(temps[1]);
const rowsY=[44.5,63,81.7];
[[210,215,BLUE],[289,293,RED]].forEach(([tx,sx,c])=>{
  groups.forEach((gname,j)=>{
    const t=leg.append("text").attr("x",tx).attr("y",rowsY[j]+3.8).attr("text-anchor","end").attr("font-size",FS);
    t.append("tspan").attr("font-style","italic").text("k");
    t.append("tspan").text(gname.slice(1));
    if(j<2){
      leg.append("line").attr("x1",sx).attr("x2",sx+15).attr("y1",rowsY[j]).attr("y2",rowsY[j])
        .attr("stroke",c).attr("stroke-width",1.4).attr("stroke-dasharray",j===1?"4,3":null);
    } else {
      leg.append("circle").attr("cx",sx+7).attr("cy",rowsY[j]).attr("r",2.5).attr("fill",c);
    }
  });
});
</script>
</body></html>
